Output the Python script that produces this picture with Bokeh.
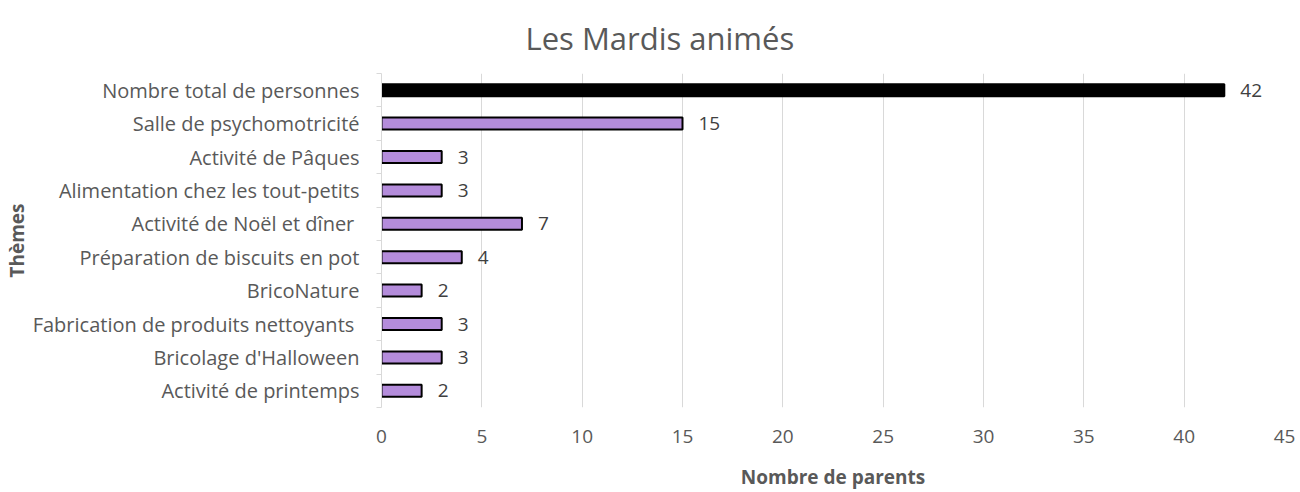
import math
from bokeh.plotting import figure
from bokeh.models import FixedTicker, Range1d, ColumnDataSource
from bokeh.embed import file_html
from bokeh.resources import INLINE
from bokeh.core.properties import value

categories = [
    "Nombre total de personnes",
    "Salle de psychomotricité",
    "Activité de Pâques",
    "Alimentation chez les tout-petits",
    "Activité de Noël et dîner ",
    "Préparation de biscuits en pot",
    "BricoNature",
    "Fabrication de produits nettoyants ",
    "Bricolage d'Halloween",
    "Activité de printemps",
]
values = [42, 15, 3, 3, 7, 4, 2, 3, 3, 2]
bar_colors = ["#000000"] + ["#B48CDB"] * 9
x_ticks = [0, 5, 10, 15, 20, 25, 30, 35, 40, 45]

FONT = "Open Sans"
GREY = "#595959"

n = len(categories)
ypos = [n - 0.5 - i for i in range(n)]

src = ColumnDataSource(dict(y=ypos, v=values, c=bar_colors, lbl=[str(v) for v in values]))

p = figure(width=1300, height=492, output_backend="svg", toolbar_location=None,
           x_range=Range1d(0, 45), y_range=Range1d(0, n),
           min_border_left=381, min_border_right=16, min_border_top=71, min_border_bottom=85)
p.outline_line_color = None

p.title.text = "Les Mardis animés"
p.title.align = "left"
p.title.offset = 144
p.title.text_font = FONT
p.title.text_font_size = "31px"
p.title.text_font_style = "normal"
p.title.text_color = GREY
p.title.standoff = 29

p.hbar(y="y", right="v", left=0, height=0.36, fill_color="c", line_color="black",
       line_width=2, source=src)
p.text(x="v", y="y", text="lbl", x_offset=16, text_baseline="middle",
       text_font=value(FONT), text_font_size="19px", text_color="#404040", source=src)

# y axis
p.yaxis.ticker = FixedTicker(ticks=ypos, minor_ticks=list(range(n + 1)))
p.yaxis.major_label_overrides = {y: c for y, c in zip(ypos, categories)}
p.yaxis.major_tick_out = 0
p.yaxis.major_tick_in = 0
p.yaxis.minor_tick_out = 5
p.yaxis.minor_tick_in = 0
p.yaxis.minor_tick_line_color = "#d9d9d9"
p.yaxis.axis_line_color = "#d9d9d9"
p.yaxis.major_label_standoff = 17
p.yaxis.major_label_text_font = FONT
p.yaxis.major_label_text_font_size = "20px"
p.yaxis.major_label_text_color = GREY
p.yaxis.axis_label = "Thèmes"
p.yaxis.axis_label_text_font = FONT
p.yaxis.axis_label_text_font_size = "19px"
p.yaxis.axis_label_text_font_style = "bold"
p.yaxis.axis_label_text_color = GREY
p.yaxis.axis_label_standoff = 0
p.ygrid.grid_line_color = None

# x axis
p.xaxis.ticker = FixedTicker(ticks=x_ticks)
p.xaxis.axis_line_color = None
p.xaxis.major_tick_line_color = None
p.xaxis.minor_tick_line_color = None
p.xaxis.major_label_standoff = 16
p.xaxis.major_label_text_font = FONT
p.xaxis.major_label_text_font_size = "19px"
p.xaxis.major_label_text_color = GREY
p.xaxis.axis_label = "Nombre de parents"
p.xaxis.axis_label_text_font = FONT
p.xaxis.axis_label_text_font_size = "19px"
p.xaxis.axis_label_text_font_style = "bold"
p.xaxis.axis_label_text_color = GREY
p.xaxis.axis_label_standoff = 18
p.xgrid.ticker = FixedTicker(ticks=x_ticks)
p.xgrid.grid_line_color = "#d9d9d9"

open("out.html", "w").write(file_html(p, INLINE))
